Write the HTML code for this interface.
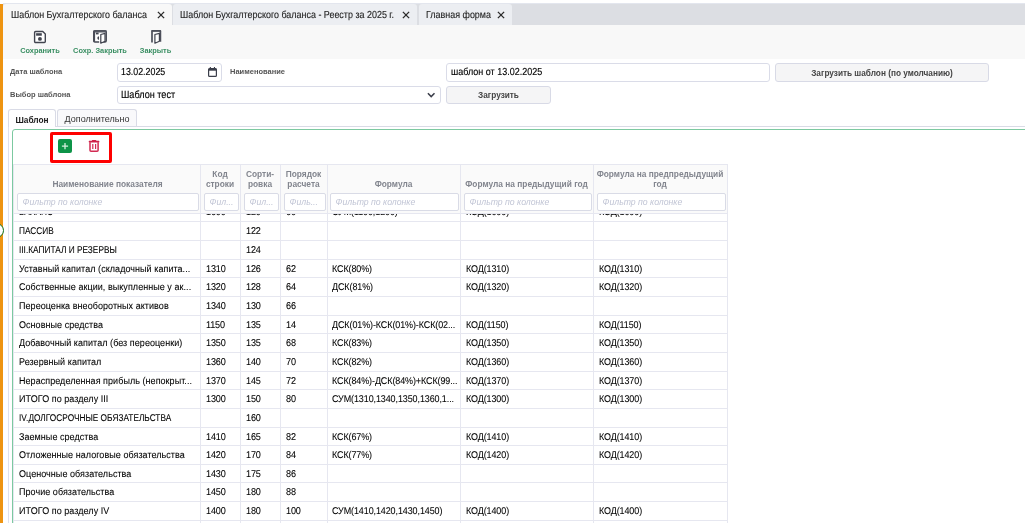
<!DOCTYPE html>
<html lang="ru">
<head>
<meta charset="utf-8">
<title>Шаблон Бухгалтерского баланса</title>
<style>
*{box-sizing:border-box;margin:0;padding:0}
html,body{width:1025px;height:523px;overflow:hidden;background:#fff}
body{font-family:"Liberation Sans",sans-serif;color:#222;position:relative;font-size:9px;-webkit-font-smoothing:antialiased;text-rendering:geometricPrecision}
.sx{display:inline-block;transform-origin:0 50%;white-space:nowrap}
#wrap{position:absolute;left:0;top:0;width:1025px;height:523px;will-change:transform;transform:translateZ(0);overflow:hidden}
.abs{position:absolute}
#leftbar{left:0;top:4px;width:3px;height:519px;background:#ee9411}
#tabbar{left:3px;top:3px;width:1022px;height:22px;background:#dcdee3;border-top:1px solid #e3e6ee}
.ttab{position:absolute;top:0;height:21px;line-height:23px;font-size:9px;color:#303030;white-space:nowrap;padding-left:8px;background:#eceef2;border-radius:3px 3px 0 0}
.ttab.act{background:#f8f8f8}
.tt{font-size:10.2px;transform:scaleX(0.878);color:#222;-webkit-text-stroke:0.12px #222}
.it{font-size:10.2px;transform:scaleX(0.867);-webkit-text-stroke:0.15px #000}
.ttab .x{position:absolute;right:7px;top:7px}
#toolbar{left:3px;top:25px;width:1022px;height:34px;background:#f8f8f8}
.tbtn,.lbl,.btn,.hc,.stab,.fi{text-rendering:auto}
.tbtn{position:absolute;top:0;height:33px;text-align:center;font-size:7.4px;color:#3a8f63;font-weight:bold;white-space:nowrap}
.tbtn svg{position:absolute;top:5px;left:50%;margin-left:-6px}
.tbtn span{position:absolute;left:-5px;right:-5px;top:21px;line-height:9px}
.lbl{font-size:7.5px;color:#555;font-weight:bold;white-space:nowrap;line-height:10px}
.inp{border:1px solid #dadcE8;border-radius:3px;background:#fff;font-size:9px;color:#000;line-height:17px;padding-left:3px;white-space:nowrap;overflow:hidden}
.btn{border:1px solid #d8dae6;border-radius:3px;background:#f5f5f6;font-size:8.25px;color:#444;text-align:center;font-weight:bold;white-space:nowrap}
.stab{position:absolute;top:109px;height:18px;border:1px solid #d9dbe6;border-bottom:none;border-radius:3px 3px 0 0;font-size:8.4px;line-height:17px;text-align:center;color:#333;background:#fff;white-space:nowrap}
#panel{left:12px;top:129px;width:1020px;height:400px;border:1px solid #7cc9a0;border-radius:3px;background:#fff}
#grid{left:14px;top:164px;width:713px;height:359px}
.vl{position:absolute;width:1px;background:#e6e7f0}
.hl{position:absolute;height:1px;background:#e6e7f0;left:-1px;width:715px}
.hc{position:absolute;font-size:8.35px;font-weight:bold;color:#82858e;text-align:center;line-height:9.6px;white-space:nowrap}
.fi{position:absolute;top:29px;height:18px;border:1px solid #d9dbe6;border-radius:2px;background:#fff;font-size:8.7px;font-style:italic;color:#c1c5d5;line-height:16px;padding-left:4.5px;white-space:nowrap;overflow:hidden}
.row{position:absolute;left:0;width:713px;font-size:8.7px;color:#000;white-space:nowrap;text-rendering:geometricPrecision;-webkit-text-stroke:0.08px #000}
.row span{position:absolute;top:0.7px;font-size:9.9px;letter-spacing:-0.17px;transform:scaleX(0.92);transform-origin:0 50%}
.row span.c5,.row span.c6,.row span.c7{font-size:9.8px;letter-spacing:-0.1px;transform:scaleX(0.915)}
.row span.c1{font-size:9.8px;letter-spacing:0.06px;transform:scaleX(0.918)}
.row.up span.c1{font-size:9.8px;letter-spacing:0;transform:scaleX(0.847)}
#rows .hl{left:0}#rows .row{left:1px}
.c1{left:5px}.c2{left:192px}.c3{left:232px}.c4{left:272px}.c5{left:318px}.c6{left:452px}.c7{left:585px}
</style>
</head>
<body>
<div id="wrap">
<div id="leftbar" class="abs"></div>
<div id="tabbar" class="abs">
  <div class="ttab act" style="left:0;width:169px;padding-left:8px"><span class="sx tt">Шаблон Бухгалтерского баланса</span><svg class="x" width="8" height="8" viewBox="0 0 9 9"><path d="M1 1L8 8M8 1L1 8" stroke="#2b2b2b" stroke-width="1.5" fill="none"/></svg></div>
  <div class="ttab" style="left:170px;width:244px;padding-left:7px"><span class="sx tt">Шаблон Бухгалтерского баланса - Реестр за 2025 г.</span><svg class="x" width="8" height="8" viewBox="0 0 9 9"><path d="M1 1L8 8M8 1L1 8" stroke="#2b2b2b" stroke-width="1.5" fill="none"/></svg></div>
  <div class="ttab" style="left:416px;width:93px;padding-left:7px"><span class="sx tt">Главная форма</span><svg class="x" width="8" height="8" viewBox="0 0 9 9"><path d="M1 1L8 8M8 1L1 8" stroke="#2b2b2b" stroke-width="1.5" fill="none"/></svg></div>
</div>
<div id="toolbar" class="abs">
  <div class="tbtn" style="left:10px;width:54px"><span>Сохранить</span></div>
  <div class="tbtn" style="left:66px;width:62px"><span>Сохр. Закрыть</span></div>
  <div class="tbtn" style="left:134px;width:37px"><span>Закрыть</span></div>
</div>
<svg class="abs" style="left:33px;top:30px" width="14" height="14" viewBox="0 0 14 14"><path d="M2.6 1.5h7.2L12.3 3.9v7.6a1 1 0 0 1-1 1H2.6a1 1 0 0 1-1-1V2.5a1 1 0 0 1 1-1z" fill="#fff" stroke="#41444f" stroke-width="1.4" stroke-linejoin="round"/><rect x="3.1" y="3.2" width="5.7" height="2.5" fill="#41444f"/><circle cx="6.95" cy="8.9" r="1.95" fill="#41444f"/></svg>
<svg class="abs" style="left:93px;top:30px" width="14" height="14" viewBox="0 0 14 14"><rect x="0.8" y="0.8" width="12.4" height="11.2" rx="1.2" fill="#fff" stroke="#454853" stroke-width="1.5"/><rect x="0.3" y="0.3" width="13.4" height="2.1" rx="0.9" fill="#555863"/><rect x="0.2" y="1.2" width="1.9" height="10.6" fill="#4a4d58"/><rect x="2.9" y="2.6" width="2.7" height="1.8" fill="#41444f"/><path d="M6.1 6.3a1.8 1.8 0 0 0 0 3.6z" fill="#41444f"/><path d="M6.8 13V4.4" stroke="#fff" stroke-width="1.2"/><path d="M7.8 4.5L12 3.4v7.8L7.8 13.2z" fill="#fff" stroke="#41444f" stroke-width="1.2" stroke-linejoin="round"/></svg>
<svg class="abs" style="left:150px;top:30px" width="12" height="14" viewBox="0 0 12 14"><path d="M2 12.6V1.4a.6.6 0 0 1 .6-.6h7.2a.6.6 0 0 1 .6.6v10.3" fill="none" stroke="#4d505b" stroke-width="1.7"/><rect x="1.2" y="0.3" width="10" height="1.3" rx="0.6" fill="#4d505b"/><path d="M4.9 4.5L9.4 3.3v7.9L4.9 13.2z" fill="#fff" stroke="#41444f" stroke-width="1.2" stroke-linejoin="round"/></svg>

<div class="abs lbl" style="left:10px;top:67px">Дата шаблона</div>
<div class="abs inp" style="left:117px;top:63px;width:105px;height:19px"><span class="sx it">13.02.2025</span></div>
<svg class="abs" style="left:208px;top:67px" width="9" height="10" viewBox="0 0 9 10"><rect x="0.6" y="1.7" width="7.8" height="7.6" rx="0.9" fill="#fff" stroke="#3b3e4a" stroke-width="1.2"/><rect x="0.6" y="1.7" width="7.8" height="2" fill="#3b3e4a"/><rect x="1.8" y="0" width="1.1" height="2.2" fill="#3b3e4a"/><rect x="5.9" y="0" width="1.1" height="2.2" fill="#3b3e4a"/></svg>
<div class="abs lbl" style="left:230px;top:67px">Наименование</div>
<div class="abs inp" style="left:446px;top:63px;width:324px;height:19px;padding-left:4px"><span class="sx it" style="transform:scaleX(0.882)">шаблон от 13.02.2025</span></div>
<div class="abs btn" style="left:775px;top:63px;width:214px;height:19px;line-height:19px">Загрузить шаблон (по умолчанию)</div>

<div class="abs lbl" style="left:10px;top:90px">Выбор шаблона</div>
<div class="abs inp" style="left:117px;top:86px;width:324px;height:18px;line-height:17px;"><span class="sx it" style="font-size:10.5px">Шаблон тест</span></div>
<svg class="abs" style="left:426.5px;top:92px" width="9" height="7" viewBox="0 0 9 7"><path d="M0.9 1.2L4.2 4.6L7.5 1.2" fill="none" stroke="#3b3e4a" stroke-width="1.5"/></svg>
<div class="abs btn" style="left:446px;top:86px;width:105px;height:18px;line-height:17px">Загрузить</div>

<div class="abs" style="left:8px;top:126px;width:1017px;height:1px;background:#d9dbe6"></div>
<div class="stab" style="left:8px;width:48px;height:18px;font-weight:bold;color:#1a1a1a;line-height:20px;font-size:8.3px">Шаблон</div>
<div class="stab" style="left:57px;width:80px;height:17px;background:#f9f9fb;font-size:9px;line-height:18px">Дополнительно</div>

<div class="abs" style="left:8px;top:127px;width:1px;height:396px;background:#dfe1ec"></div>
<div id="panel" class="abs"></div>
<div class="abs" style="left:-11.2px;top:223px;width:15.2px;height:15.2px;border-radius:50%;border:1.4px solid #0b6a12;background:#fff"></div>
<div class="abs" style="left:50px;top:132px;width:62px;height:31px;border:3px solid #fe0000;border-radius:2px"></div>
<div class="abs" style="left:58px;top:139px;width:14px;height:14px;background:#0d9448;border-radius:2px"></div>
<svg class="abs" style="left:58px;top:139px" width="14" height="14" viewBox="0 0 14 14"><path d="M7 4v6.2M3.9 7.1h6.2" stroke="#d4eedd" stroke-width="1.3"/></svg>
<svg class="abs" style="left:88px;top:139px" width="12" height="14" viewBox="0 0 12 14"><rect x="0.75" y="1.8" width="10.6" height="1.6" rx="0.4" fill="#cf2049"/><rect x="3.9" y="1" width="4.4" height="1.4" rx="0.6" fill="#cf2049"/><path d="M2 3.2v8a1 1 0 0 0 1 1h6.1a1 1 0 0 0 1-1v-8" fill="none" stroke="#d22a52" stroke-width="1.5"/><path d="M4.8 4.9v5M7.6 4.9v5" stroke="#d22a52" stroke-width="1.2"/></svg>

<div id="grid" class="abs">
  <div class="abs" style="left:-1px;top:0;width:715px;height:50px;background:#fafafa"></div>
  <div class="hl" style="top:0"></div>
  <div class="hl" style="top:49px"></div>
  <div class="vl" style="left:-1px;top:0;height:359px"></div>
  <div class="vl" style="left:186px;top:0;height:359px"></div>
  <div class="vl" style="left:226px;top:0;height:359px"></div>
  <div class="vl" style="left:266px;top:0;height:359px"></div>
  <div class="vl" style="left:313px;top:0;height:359px"></div>
  <div class="vl" style="left:446px;top:0;height:359px"></div>
  <div class="vl" style="left:579px;top:0;height:359px"></div>
  <div class="vl" style="left:713px;top:0;height:359px"></div>

<!--ROWS-->
  <div id="rows" class="abs" style="left:-1px;top:50px;width:715px;height:309px;overflow:hidden">
    <div class="row up" style="top:-11px;height:18px;line-height:18px"><span class="c1">БАЛАНС</span><span class="c2">1600</span><span class="c3">120</span><span class="c4">60</span><span class="c5">СУМ(1100,1200)</span><span class="c6">КОД(1600)</span><span class="c7">КОД(1600)</span></div>
    <div class="hl" style="top:7px"></div>
    <div class="row up" style="top:8px;height:18px;line-height:18px"><span class="c1">ПАССИВ</span><span class="c3">122</span></div>
    <div class="hl" style="top:26px"></div>
    <div class="row up" style="top:27px;height:18px;line-height:18px"><span class="c1">III.КАПИТАЛ И РЕЗЕРВЫ</span><span class="c3">124</span></div>
    <div class="hl" style="top:45px"></div>
    <div class="row" style="top:46px;height:17px;line-height:17px"><span class="c1">Уставный капитал (складочный капита...</span><span class="c2">1310</span><span class="c3">126</span><span class="c4">62</span><span class="c5">КСК(80%)</span><span class="c6">КОД(1310)</span><span class="c7">КОД(1310)</span></div>
    <div class="hl" style="top:63px"></div>
    <div class="row" style="top:64px;height:18px;line-height:18px"><span class="c1">Собственные акции, выкупленные у ак...</span><span class="c2">1320</span><span class="c3">128</span><span class="c4">64</span><span class="c5">ДСК(81%)</span><span class="c6">КОД(1320)</span><span class="c7">КОД(1320)</span></div>
    <div class="hl" style="top:82px"></div>
    <div class="row" style="top:83px;height:18px;line-height:18px"><span class="c1">Переоценка внеоборотных активов</span><span class="c2">1340</span><span class="c3">130</span><span class="c4">66</span></div>
    <div class="hl" style="top:101px"></div>
    <div class="row" style="top:102px;height:17px;line-height:17px"><span class="c1">Основные средства</span><span class="c2">1150</span><span class="c3">135</span><span class="c4">14</span><span class="c5">ДСК(01%)-КСК(01%)-КСК(02...</span><span class="c6">КОД(1150)</span><span class="c7">КОД(1150)</span></div>
    <div class="hl" style="top:119px"></div>
    <div class="row" style="top:120px;height:18px;line-height:18px"><span class="c1">Добавочный капитал (без переоценки)</span><span class="c2">1350</span><span class="c3">135</span><span class="c4">68</span><span class="c5">КСК(83%)</span><span class="c6">КОД(1350)</span><span class="c7">КОД(1350)</span></div>
    <div class="hl" style="top:138px"></div>
    <div class="row" style="top:139px;height:18px;line-height:18px"><span class="c1">Резервный капитал</span><span class="c2">1360</span><span class="c3">140</span><span class="c4">70</span><span class="c5">КСК(82%)</span><span class="c6">КОД(1360)</span><span class="c7">КОД(1360)</span></div>
    <div class="hl" style="top:157px"></div>
    <div class="row" style="top:158px;height:17px;line-height:17px"><span class="c1">Нераспределенная прибыль (непокрыт...</span><span class="c2">1370</span><span class="c3">145</span><span class="c4">72</span><span class="c5">КСК(84%)-ДСК(84%)+КСК(99...</span><span class="c6">КОД(1370)</span><span class="c7">КОД(1370)</span></div>
    <div class="hl" style="top:175px"></div>
    <div class="row" style="top:176px;height:18px;line-height:18px"><span class="c1">ИТОГО по разделу III</span><span class="c2">1300</span><span class="c3">150</span><span class="c4">80</span><span class="c5">СУМ(1310,1340,1350,1360,1...</span><span class="c6">КОД(1300)</span><span class="c7">КОД(1300)</span></div>
    <div class="hl" style="top:194px"></div>
    <div class="row up" style="top:195px;height:18px;line-height:18px"><span class="c1">IV.ДОЛГОСРОЧНЫЕ ОБЯЗАТЕЛЬСТВА</span><span class="c3">160</span></div>
    <div class="hl" style="top:213px"></div>
    <div class="row" style="top:214px;height:17px;line-height:17px"><span class="c1">Заемные средства</span><span class="c2">1410</span><span class="c3">165</span><span class="c4">82</span><span class="c5">КСК(67%)</span><span class="c6">КОД(1410)</span><span class="c7">КОД(1410)</span></div>
    <div class="hl" style="top:231px"></div>
    <div class="row" style="top:232px;height:18px;line-height:18px"><span class="c1">Отложенные налоговые обязательства</span><span class="c2">1420</span><span class="c3">170</span><span class="c4">84</span><span class="c5">КСК(77%)</span><span class="c6">КОД(1420)</span><span class="c7">КОД(1420)</span></div>
    <div class="hl" style="top:250px"></div>
    <div class="row" style="top:251px;height:17px;line-height:17px"><span class="c1">Оценочные обязательства</span><span class="c2">1430</span><span class="c3">175</span><span class="c4">86</span></div>
    <div class="hl" style="top:268px"></div>
    <div class="row" style="top:269px;height:18px;line-height:18px"><span class="c1">Прочие обязательства</span><span class="c2">1450</span><span class="c3">180</span><span class="c4">88</span></div>
    <div class="hl" style="top:287px"></div>
    <div class="row" style="top:288px;height:18px;line-height:18px"><span class="c1">ИТОГО по разделу IV</span><span class="c2">1400</span><span class="c3">180</span><span class="c4">100</span><span class="c5">СУМ(1410,1420,1430,1450)</span><span class="c6">КОД(1400)</span><span class="c7">КОД(1400)</span></div>
    <div class="hl" style="top:306px"></div>
    <div class="row up" style="top:307px;height:18px;line-height:18px"><span class="c1">V.КРАТКОСРОЧНЫЕ ОБЯЗАТЕЛЬСТВА</span><span class="c3">190</span></div>
    <div class="hl" style="top:325px"></div>
  </div>
<!--/ROWS-->
  <div class="hc" style="left:0;width:187px;top:16px">Наименование показателя</div>
  <div class="hc" style="left:186px;width:40px;top:6px">Код<br>строки</div>
  <div class="hc" style="left:226px;width:40px;top:6px">Сорти-<br>ровка</div>
  <div class="hc" style="left:266px;width:47px;top:6px">Порядок<br>расчета</div>
  <div class="hc" style="left:313px;width:133px;top:16px">Формула</div>
  <div class="hc" style="left:446px;width:133px;top:16px">Формула на предыдущий год</div>
  <div class="hc" style="left:579px;width:134px;top:6px">Формула на предпредыдущий<br>год</div>

  <div class="fi" style="left:3px;width:182px">Фильтр по колонке</div>
  <div class="fi" style="left:190px;width:35px">Фил...</div>
  <div class="fi" style="left:230px;width:35px">Фил...</div>
  <div class="fi" style="left:270px;width:42px">Филь...</div>
  <div class="fi" style="left:316px;width:129px">Фильтр по колонке</div>
  <div class="fi" style="left:450px;width:128px">Фильтр по колонке</div>
  <div class="fi" style="left:583px;width:129px">Фильтр по колонке</div>
</div>
</div>
</body>
</html>
